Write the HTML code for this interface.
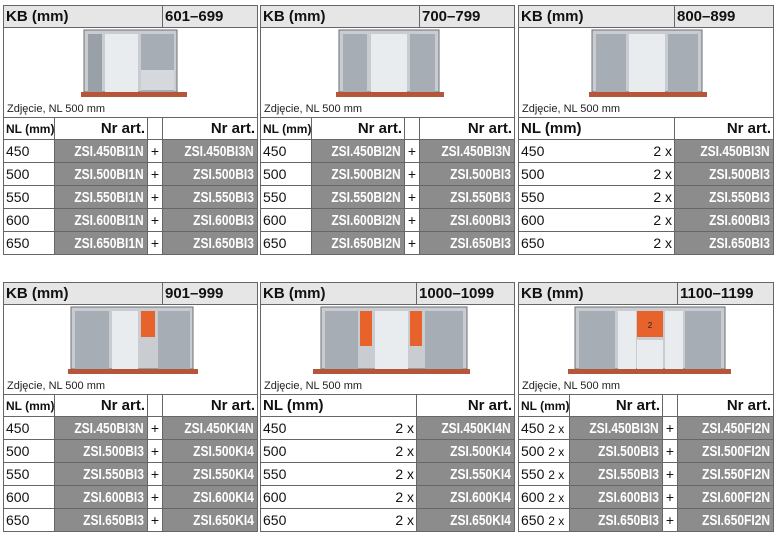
<!DOCTYPE html>
<html><head><meta charset="utf-8">
<style>
body{margin:0;width:777px;height:538px;background:#fff;font-family:"Liberation Sans",Arial,sans-serif;position:relative;overflow:hidden}
.p{position:absolute;width:254px;height:249px}
table{border-collapse:collapse;width:254px;table-layout:fixed}
td{border:1px solid #666;padding:0 2px;height:22px;font-size:14px;color:#111;white-space:nowrap;overflow:hidden}
.h td{background:#e6e6e6;font-weight:bold;font-size:15px;height:21px}
.img td{height:89px;padding:0;position:relative;vertical-align:top}
.cap{position:absolute;left:3px;bottom:2px;font-size:11px;color:#222}
.th td{font-weight:bold;font-size:15px;height:21px}
.r{text-align:right}
.g{background:#8c8c8c;color:#fff;font-weight:bold;text-align:right;padding-right:3px}
.g span{display:inline-block;transform:scaleX(.8);transform-origin:right;font-size:15px}
.pl{text-align:center;padding:0}
.sm{font-size:12px}
</style></head><body>

<!-- Panel 1 -->
<div class="p" style="left:3px;top:5px"><table>
<colgroup><col style="width:51px"><col style="width:93px"><col style="width:15px"><col style="width:95px"></colgroup>
<tr class="h"><td colspan="3">KB (mm)</td><td>601–699</td></tr>
<tr class="img"><td colspan="4"><svg width="252" height="89" style="position:absolute;left:0;top:0"><rect x="80" y="2" width="93" height="62" fill="#c9ccd1" stroke="#6a6e74"/><rect x="101" y="6" width="33" height="58" fill="#e9ecef"/><rect x="84" y="6" width="14" height="58" fill="#9aa0a7"/><rect x="137" y="6" width="33" height="58" fill="#a7adb4"/><rect x="137" y="42" width="33" height="20" fill="#d5d8dc"/><rect x="77" y="64" width="106" height="5" fill="#b5553a"/></svg><div class="cap">Zdjęcie, NL 500 mm</div></td></tr>
<tr class="th"><td><span class="sm">NL (mm)</span></td><td class="r">Nr art.</td><td></td><td class="r">Nr art.</td></tr>
<tr><td>450</td><td class="g"><span>ZSI.450BI1N</span></td><td class="pl">+</td><td class="g"><span>ZSI.450BI3N</span></td></tr>
<tr><td>500</td><td class="g"><span>ZSI.500BI1N</span></td><td class="pl">+</td><td class="g"><span>ZSI.500BI3</span></td></tr>
<tr><td>550</td><td class="g"><span>ZSI.550BI1N</span></td><td class="pl">+</td><td class="g"><span>ZSI.550BI3</span></td></tr>
<tr><td>600</td><td class="g"><span>ZSI.600BI1N</span></td><td class="pl">+</td><td class="g"><span>ZSI.600BI3</span></td></tr>
<tr><td>650</td><td class="g"><span>ZSI.650BI1N</span></td><td class="pl">+</td><td class="g"><span>ZSI.650BI3</span></td></tr>
</table></div>

<!-- Panel 2 -->
<div class="p" style="left:260px;top:5px"><table>
<colgroup><col style="width:51px"><col style="width:93px"><col style="width:15px"><col style="width:95px"></colgroup>
<tr class="h"><td colspan="3">KB (mm)</td><td>700–799</td></tr>
<tr class="img"><td colspan="4"><svg width="252" height="89" style="position:absolute;left:0;top:0"><rect x="78" y="2" width="100" height="62" fill="#c9ccd1" stroke="#6a6e74"/><rect x="82" y="6" width="24" height="58" fill="#a7adb4"/><rect x="110" y="6" width="36" height="58" fill="#e9ecef"/><rect x="149" y="6" width="25" height="58" fill="#a7adb4"/><rect x="75" y="64" width="108" height="5" fill="#b5553a"/></svg><div class="cap">Zdjęcie, NL 500 mm</div></td></tr>
<tr class="th"><td><span class="sm">NL (mm)</span></td><td class="r">Nr art.</td><td></td><td class="r">Nr art.</td></tr>
<tr><td>450</td><td class="g"><span>ZSI.450BI2N</span></td><td class="pl">+</td><td class="g"><span>ZSI.450BI3N</span></td></tr>
<tr><td>500</td><td class="g"><span>ZSI.500BI2N</span></td><td class="pl">+</td><td class="g"><span>ZSI.500BI3</span></td></tr>
<tr><td>550</td><td class="g"><span>ZSI.550BI2N</span></td><td class="pl">+</td><td class="g"><span>ZSI.550BI3</span></td></tr>
<tr><td>600</td><td class="g"><span>ZSI.600BI2N</span></td><td class="pl">+</td><td class="g"><span>ZSI.600BI3</span></td></tr>
<tr><td>650</td><td class="g"><span>ZSI.650BI2N</span></td><td class="pl">+</td><td class="g"><span>ZSI.650BI3</span></td></tr>
</table></div>

<!-- Panel 3 -->
<div class="p" style="left:518px;top:5px;width:255px"><table style="width:255px">
<colgroup><col style="width:156px"><col style="width:99px"></colgroup>
<tr class="h"><td>KB (mm)</td><td>800–899</td></tr>
<tr class="img"><td colspan="2"><svg width="253" height="89" style="position:absolute;left:0;top:0"><rect x="73" y="2" width="110" height="62" fill="#c9ccd1" stroke="#6a6e74"/><rect x="77" y="6" width="30" height="58" fill="#a7adb4"/><rect x="110" y="6" width="36" height="58" fill="#e9ecef"/><rect x="149" y="6" width="30" height="58" fill="#a7adb4"/><rect x="70" y="64" width="118" height="5" fill="#b5553a"/></svg><div class="cap">Zdjęcie, NL 500 mm</div></td></tr>
<tr class="th"><td>NL (mm)</td><td class="r">Nr art.</td></tr>
<tr><td>450<span style="float:right">2 x</span></td><td class="g"><span>ZSI.450BI3N</span></td></tr>
<tr><td>500<span style="float:right">2 x</span></td><td class="g"><span>ZSI.500BI3</span></td></tr>
<tr><td>550<span style="float:right">2 x</span></td><td class="g"><span>ZSI.550BI3</span></td></tr>
<tr><td>600<span style="float:right">2 x</span></td><td class="g"><span>ZSI.600BI3</span></td></tr>
<tr><td>650<span style="float:right">2 x</span></td><td class="g"><span>ZSI.650BI3</span></td></tr>
</table></div>

<!-- Panel 4 -->
<div class="p" style="left:3px;top:282px"><table>
<colgroup><col style="width:51px"><col style="width:93px"><col style="width:15px"><col style="width:95px"></colgroup>
<tr class="h"><td colspan="3">KB (mm)</td><td>901–999</td></tr>
<tr class="img"><td colspan="4"><svg width="252" height="89" style="position:absolute;left:0;top:0"><rect x="67" y="2" width="122" height="62" fill="#c9ccd1" stroke="#6a6e74"/><rect x="71" y="6" width="34" height="58" fill="#a7adb4"/><rect x="108" y="6" width="26" height="58" fill="#e9ecef"/><rect x="137" y="6" width="14" height="26" fill="#e8622c"/><rect x="154" y="6" width="32" height="58" fill="#a7adb4"/><rect x="64" y="64" width="130" height="5" fill="#b5553a"/></svg><div class="cap">Zdjęcie, NL 500 mm</div></td></tr>
<tr class="th"><td><span class="sm">NL (mm)</span></td><td class="r">Nr art.</td><td></td><td class="r">Nr art.</td></tr>
<tr><td>450</td><td class="g"><span>ZSI.450BI3N</span></td><td class="pl">+</td><td class="g"><span>ZSI.450KI4N</span></td></tr>
<tr><td>500</td><td class="g"><span>ZSI.500BI3</span></td><td class="pl">+</td><td class="g"><span>ZSI.500KI4</span></td></tr>
<tr><td>550</td><td class="g"><span>ZSI.550BI3</span></td><td class="pl">+</td><td class="g"><span>ZSI.550KI4</span></td></tr>
<tr><td>600</td><td class="g"><span>ZSI.600BI3</span></td><td class="pl">+</td><td class="g"><span>ZSI.600KI4</span></td></tr>
<tr><td>650</td><td class="g"><span>ZSI.650BI3</span></td><td class="pl">+</td><td class="g"><span>ZSI.650KI4</span></td></tr>
</table></div>

<!-- Panel 5 -->
<div class="p" style="left:260px;top:282px"><table>
<colgroup><col style="width:156px"><col style="width:98px"></colgroup>
<tr class="h"><td>KB (mm)</td><td>1000–1099</td></tr>
<tr class="img"><td colspan="2"><svg width="252" height="89" style="position:absolute;left:0;top:0"><rect x="60" y="2" width="146" height="62" fill="#c9ccd1" stroke="#6a6e74"/><rect x="64" y="6" width="33" height="58" fill="#a7adb4"/><rect x="99" y="6" width="12" height="35" fill="#e8622c"/><rect x="114" y="6" width="33" height="58" fill="#e9ecef"/><rect x="149" y="6" width="12" height="35" fill="#e8622c"/><rect x="164" y="6" width="38" height="58" fill="#a7adb4"/><rect x="52" y="64" width="157" height="5" fill="#b5553a"/></svg><div class="cap">Zdjęcie, NL 500 mm</div></td></tr>
<tr class="th"><td>NL (mm)</td><td class="r">Nr art.</td></tr>
<tr><td>450<span style="float:right">2 x</span></td><td class="g"><span>ZSI.450KI4N</span></td></tr>
<tr><td>500<span style="float:right">2 x</span></td><td class="g"><span>ZSI.500KI4</span></td></tr>
<tr><td>550<span style="float:right">2 x</span></td><td class="g"><span>ZSI.550KI4</span></td></tr>
<tr><td>600<span style="float:right">2 x</span></td><td class="g"><span>ZSI.600KI4</span></td></tr>
<tr><td>650<span style="float:right">2 x</span></td><td class="g"><span>ZSI.650KI4</span></td></tr>
</table></div>

<!-- Panel 6 -->
<div class="p" style="left:518px;top:282px;width:255px"><table style="width:255px">
<colgroup><col style="width:51px"><col style="width:93px"><col style="width:15px"><col style="width:96px"></colgroup>
<tr class="h"><td colspan="3">KB (mm)</td><td>1100–1199</td></tr>
<tr class="img"><td colspan="4"><svg width="253" height="89" style="position:absolute;left:0;top:0"><rect x="56" y="2" width="150" height="62" fill="#c9ccd1" stroke="#6a6e74"/><rect x="60" y="6" width="36" height="58" fill="#a7adb4"/><rect x="99" y="6" width="18" height="58" fill="#e9ecef"/><rect x="118" y="6" width="26" height="26" fill="#e8622c"/><rect x="118" y="35" width="26" height="29" fill="#e9ecef"/><rect x="146" y="6" width="18" height="58" fill="#e9ecef"/><rect x="166" y="6" width="36" height="58" fill="#a7adb4"/><text x="131" y="23" font-size="8" font-family="Liberation Sans" text-anchor="middle" fill="#222">2</text><rect x="49" y="64" width="163" height="5" fill="#b5553a"/></svg><div class="cap">Zdjęcie, NL 500 mm</div></td></tr>
<tr class="th"><td><span class="sm">NL (mm)</span></td><td class="r">Nr art.</td><td></td><td class="r">Nr art.</td></tr>
<tr><td>450 <span class="sm">2 x</span></td><td class="g"><span>ZSI.450BI3N</span></td><td class="pl">+</td><td class="g"><span>ZSI.450FI2N</span></td></tr>
<tr><td>500 <span class="sm">2 x</span></td><td class="g"><span>ZSI.500BI3</span></td><td class="pl">+</td><td class="g"><span>ZSI.500FI2N</span></td></tr>
<tr><td>550 <span class="sm">2 x</span></td><td class="g"><span>ZSI.550BI3</span></td><td class="pl">+</td><td class="g"><span>ZSI.550FI2N</span></td></tr>
<tr><td>600 <span class="sm">2 x</span></td><td class="g"><span>ZSI.600BI3</span></td><td class="pl">+</td><td class="g"><span>ZSI.600FI2N</span></td></tr>
<tr><td>650 <span class="sm">2 x</span></td><td class="g"><span>ZSI.650BI3</span></td><td class="pl">+</td><td class="g"><span>ZSI.650FI2N</span></td></tr>
</table></div>

</body></html>
